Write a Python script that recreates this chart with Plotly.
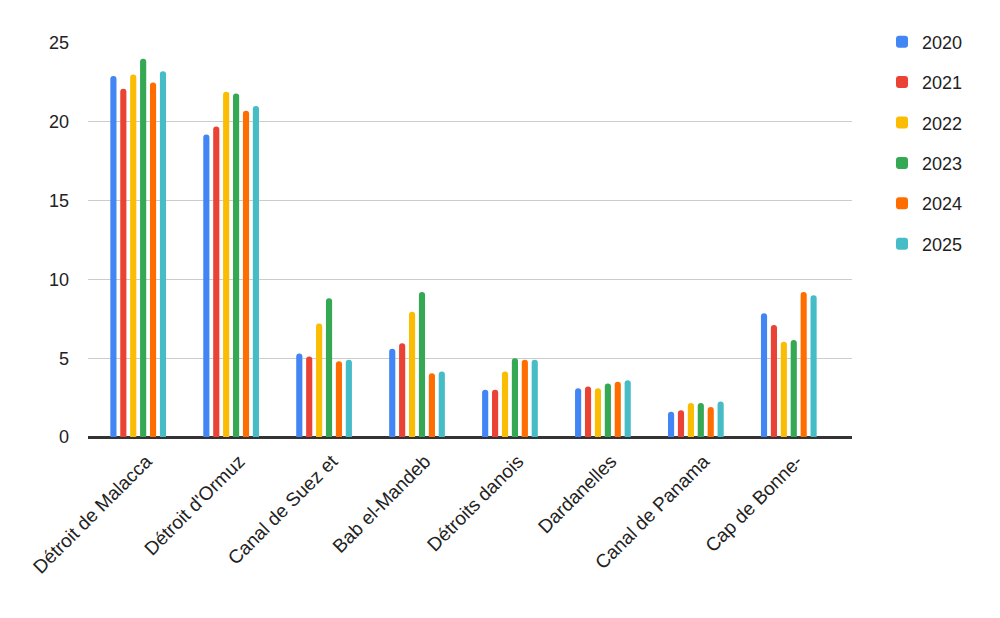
import plotly.graph_objects as go

categories = ["Détroit de Malacca", "Détroit d'Ormuz", "Canal de Suez et", "Bab el-Mandeb",
              "Détroits danois", "Dardanelles", "Canal de Panama", "Cap de Bonne-"]
years = ["2020", "2021", "2022", "2023", "2024", "2025"]
v2020 = [22.9, 19.2, 5.3, 5.6, 3.0, 3.1, 1.6, 7.85]
v2021 = [22.1, 19.7, 5.1, 5.95, 3.0, 3.2, 1.7, 7.1]
v2022 = [23.0, 21.9, 7.2, 7.95, 4.15, 3.1, 2.15, 6.05]
v2023 = [24.0, 21.8, 8.8, 9.2, 5.0, 3.4, 2.15, 6.15]
v2024 = [22.5, 20.7, 4.8, 4.05, 4.9, 3.5, 1.9, 9.2]
v2025 = [23.2, 21.0, 4.9, 4.15, 4.9, 3.6, 2.25, 9.0]
series = [v2020, v2021, v2022, v2023, v2024, v2025]
colors = ["#4285F4", "#EA4335", "#FBBC04", "#34A853", "#FF6D01", "#46BDC6"]

font = "Liberation Sans, Arial, sans-serif"
fig = go.Figure()
for y, vals, c in zip(years, series, colors):
    fig.add_trace(go.Bar(x=categories, y=vals, name=y, marker_color=c,
                         marker_line_width=0, legendgroup=y))

fig.update_layout(
    width=1000, height=618,
    margin=dict(l=88, r=148, t=43, b=181),
    paper_bgcolor="white", plot_bgcolor="white",
    barmode="group", bargap=0.36, bargroupgap=0.38, barcornerradius=3,
    font=dict(family=font, size=17, color="#222"),
    legend=dict(xref="container", yref="container", x=0.882, y=0.962,
                xanchor="left", yanchor="top", tracegroupgap=14,
                font=dict(size=18, color="#222")),
    showlegend=True,
)
fig.update_yaxes(range=[0, 25], tickvals=[0, 5, 10, 15, 20, 25], showgrid=True,
                 gridcolor="#cccccc", gridwidth=1, zeroline=True, zerolinecolor="#333333",
                 zerolinewidth=1.5, showline=False, ticks="", ticklabelstandoff=18,
                 tickfont=dict(size=18, color="#222"))
fig.update_xaxes(tickangle=-45, showline=True, linecolor="#333333", linewidth=1.5,
                 range=[-0.54, 7.68], ticks="", ticklabelshift=8, ticklabelstandoff=4,
                 tickfont=dict(size=19, color="#222"))
fig.write_html("out.html")
